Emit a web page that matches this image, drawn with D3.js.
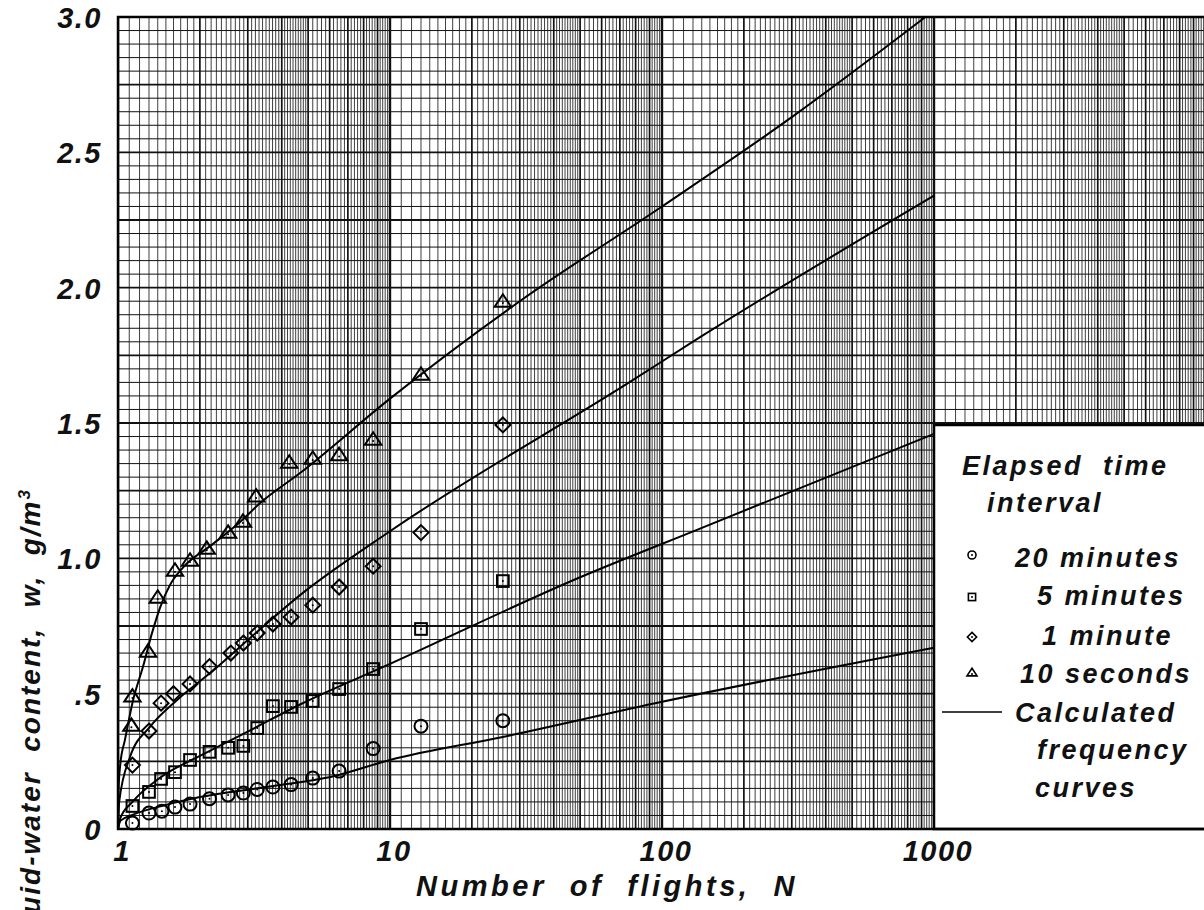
<!DOCTYPE html>
<html>
<head>
<meta charset="utf-8">
<script src="https://cdn.jsdelivr.net/npm/d3@7"></script>
<style>
  body { margin: 0; background: #fff; }
  svg text { font-family: "Liberation Sans", sans-serif; font-style: italic; font-weight: bold; fill: #111; }
</style>
</head>
<body>
<div id="chart"></div>
<script>
// observed points: number of flights N and liquid-water content w (g/m3)
const circleN = [1.13, 1.30, 1.45, 1.62, 1.84, 2.17, 2.54, 2.89, 3.25, 3.71, 4.33, 5.2, 6.5, 8.67, 13, 26];
const circleW = [0.022, 0.059, 0.066, 0.081, 0.092, 0.112, 0.126, 0.133, 0.146, 0.155, 0.164, 0.188, 0.214, 0.297, 0.38, 0.40];

const squareN = [1.13, 1.30, 1.44, 1.62, 1.84, 2.17, 2.54, 2.89, 3.25, 3.71, 4.33, 5.2, 6.5, 8.67, 13, 26];
const squareW = [0.085, 0.137, 0.185, 0.21, 0.255, 0.285, 0.30, 0.307, 0.373, 0.454, 0.451, 0.473, 0.517, 0.591, 0.739, 0.916];

const diamondN = [1.13, 1.30, 1.44, 1.60, 1.84, 2.17, 2.60, 2.89, 3.25, 3.71, 4.33, 5.2, 6.5, 8.67, 13, 26];
const diamondW = [0.236, 0.362, 0.465, 0.50, 0.536, 0.60, 0.65, 0.687, 0.724, 0.757, 0.783, 0.827, 0.894, 0.971, 1.095, 1.493];

const triangleN = [1.12, 1.13, 1.29, 1.40, 1.62, 1.84, 2.12, 2.54, 2.88, 3.22, 4.26, 5.2, 6.5, 8.67, 13, 26];
const triangleW = [0.38, 0.488, 0.654, 0.853, 0.953, 0.99, 1.034, 1.093, 1.134, 1.227, 1.352, 1.367, 1.38, 1.437, 1.677, 1.947];

// calculated frequency curves
const curve20mN = [1, 1.02, 1.13, 1.5, 2, 3.5, 6.2, 10, 26, 100, 1000];
const curve20mW = [0, 0.03, 0.052, 0.089, 0.118, 0.155, 0.195, 0.255, 0.34, 0.47, 0.67];

const curve5mN = [1, 1.02, 1.13, 1.43, 2, 3, 4.67, 10, 50, 138, 1000];
const curve5mW = [0, 0.04, 0.10, 0.19, 0.27, 0.36, 0.46, 0.61, 0.93, 1.11, 1.46];

const curve1mN = [1, 1.01, 1.107, 1.31, 1.65, 2.18, 3.24, 4.67, 10, 76, 138, 1000];
const curve1mW = [0, 0.10, 0.266, 0.377, 0.477, 0.576, 0.728, 0.864, 1.10, 1.651, 1.817, 2.34];

const curve10sN = [1, 1.004, 1.02, 1.061, 1.136, 1.236, 1.33, 1.43, 1.55, 1.73, 2.18, 2.81, 3.33, 4.67, 10, 30, 100, 300, 930];
const curve10sW = [0, 0.14, 0.24, 0.33, 0.476, 0.60, 0.72, 0.82, 0.90, 0.965, 1.045, 1.134, 1.204, 1.315, 1.59, 1.95, 2.30, 2.63, 3.0];

const yTickValues = [0, 0.5, 1.0, 1.5, 2.0, 2.5, 3.0];
const yTickLabels = ["0", ".5", "1.0", "1.5", "2.0", "2.5", "3.0"];
const xTickValues = [1, 10, 100, 1000];
const xTickLabels = ["1", "10", "100", "1000"];

const legendLabels = ["20 minutes", "5 minutes", "1 minute", "10 seconds"];

const width = 1204, height = 910;
const plotLeft = 118, plotRight = 1206, plotTop = 17, plotBottom = 829;

const svg = d3.select("#chart").append("svg")
  .attr("width", width)
  .attr("height", height);

const x = d3.scaleLog().domain([1, 10000]).range([plotLeft, plotRight]);
const y = d3.scaleLinear().domain([0, 3]).range([plotBottom, plotTop]);

svg.append("clipPath").attr("id", "plotClip")
  .append("rect")
  .attr("x", plotLeft).attr("y", plotTop)
  .attr("width", plotRight - plotLeft).attr("height", plotBottom - plotTop);

// graph paper grid: 0.1 steps up to 5, 0.2 steps from 5 to 10 in each cycle
const gGrid = svg.append("g").attr("clip-path", "url(#plotClip)");

let vLines = [];
for (let d = 1; d <= 1000; d *= 10) {
  for (let m = 1; m < 10 - 1e-9; ) {
    const isInt = Math.abs(m - Math.round(m)) < 1e-6;
    vLines.push({ v: m * d, kind: m === 1 ? "decade" : (isInt ? "int" : "minor") });
    m = Math.round((m + (m < 5 - 1e-9 ? 0.1 : 0.2)) * 10) / 10;
  }
}
vLines.push({ v: 10000, kind: "decade" });

gGrid.selectAll("line.v")
  .data(vLines)
  .join("line")
  .attr("x1", d => x(d.v)).attr("x2", d => x(d.v))
  .attr("y1", plotTop).attr("y2", plotBottom)
  .attr("stroke", d => d.kind === "minor" ? "#2a2a2a" : "#111")
  .attr("stroke-width", d => d.kind === "decade" ? 2.4 : d.kind === "int" ? 1.7 : 0.9);

const hLines = d3.range(0, 61).map(i => i * 0.05);
gGrid.selectAll("line.h")
  .data(hLines)
  .join("line")
  .attr("x1", plotLeft).attr("x2", plotRight)
  .attr("y1", d => y(d)).attr("y2", d => y(d))
  .attr("stroke", "#111")
  .attr("stroke-width", (d, i) => i % 5 === 0 ? 1.8 : 1);

// curves
const line = d3.line()
  .x(d => x(d[0]))
  .y(d => y(d[1]))
  .curve(d3.curveMonotoneX);

const curves = [
  d3.zip(curve20mN, curve20mW),
  d3.zip(curve5mN, curve5mW),
  d3.zip(curve1mN, curve1mW),
  d3.zip(curve10sN, curve10sW)
];

svg.append("g")
  .attr("clip-path", "url(#plotClip)")
  .selectAll("path")
  .data(curves)
  .join("path")
  .attr("d", line)
  .attr("fill", "none")
  .attr("stroke", "#000")
  .attr("stroke-width", 2);

// symbols
function drawSymbol(g, kind, cx, cy, s) {
  if (kind === "circle") {
    g.append("circle").attr("cx", cx).attr("cy", cy).attr("r", s);
  } else if (kind === "square") {
    g.append("rect").attr("x", cx - s * 0.9).attr("y", cy - s * 0.9)
      .attr("width", s * 1.8).attr("height", s * 1.8);
  } else if (kind === "diamond") {
    const r = s * 1.15;
    g.append("path").attr("d", `M${cx},${cy - r}L${cx + r},${cy}L${cx},${cy + r}L${cx - r},${cy}Z`);
  } else {
    const r = s * 1.2;
    g.append("path").attr("d", `M${cx},${cy - r}L${cx + r * 1.05},${cy + r * 0.6}L${cx - r * 1.05},${cy + r * 0.6}Z`);
  }
  g.append("circle").attr("cx", cx).attr("cy", kind === "triangle" ? cy + 1 : cy).attr("r", 1)
    .attr("fill", "#000").attr("stroke", "none");
}

const series = [
  { kind: "circle", n: circleN, w: circleW },
  { kind: "square", n: squareN, w: squareW },
  { kind: "diamond", n: diamondN, w: diamondW },
  { kind: "triangle", n: triangleN, w: triangleW }
];

const gPts = svg.append("g")
  .attr("fill", "none")
  .attr("stroke", "#000")
  .attr("stroke-width", 2);

series.forEach(s => {
  s.n.forEach((n, i) => drawSymbol(gPts, s.kind, x(n), y(s.w[i]), 6.5));
});

// legend box
const lx = x(1000), ly = 425;
svg.append("rect")
  .attr("x", lx).attr("y", ly)
  .attr("width", plotRight - lx).attr("height", plotBottom - ly)
  .attr("fill", "#fff")
  .attr("stroke", "#000")
  .attr("stroke-width", 2.5);

// frame
svg.append("rect")
  .attr("x", plotLeft).attr("y", plotTop)
  .attr("width", plotRight - plotLeft).attr("height", plotBottom - plotTop)
  .attr("fill", "none")
  .attr("stroke", "#000")
  .attr("stroke-width", 2.5);

const gLeg = svg.append("g").style("font-size", "27px").style("letter-spacing", "2.5px");
gLeg.append("text").attr("x", 962).attr("y", 475).attr("xml:space", "preserve").text("Elapsed  time");
gLeg.append("text").attr("x", 987).attr("y", 512).text("interval");

const legY = [555, 597, 637, 673];
const legTextX = [1015, 1037, 1042, 1020];
const legBase = [567, 605, 645, 683];
const gLegSym = svg.append("g").attr("fill", "none").attr("stroke", "#000").attr("stroke-width", 1.6);
series.forEach((s, i) => {
  drawSymbol(gLegSym, s.kind, 972, legY[i], 4);
  gLeg.append("text").attr("x", legTextX[i]).attr("y", legBase[i]).text(legendLabels[i]);
});
svg.append("line")
  .attr("x1", 942).attr("x2", 1002).attr("y1", 712).attr("y2", 712)
  .attr("stroke", "#000").attr("stroke-width", 1.6);
gLeg.append("text").attr("x", 1015).attr("y", 722).text("Calculated");
gLeg.append("text").attr("x", 1037).attr("y", 759).text("frequency");
gLeg.append("text").attr("x", 1035).attr("y", 797).text("curves");

// axis tick labels
const gAx = svg.append("g").style("font-size", "29px").style("letter-spacing", "1.5px");
gAx.selectAll("text.y")
  .data(yTickValues)
  .join("text")
  .attr("x", 102)
  .attr("y", d => y(d) + 11)
  .attr("text-anchor", "end")
  .text((d, i) => yTickLabels[i]);

gAx.selectAll("text.x")
  .data(xTickValues)
  .join("text")
  .attr("x", d => x(d) + 4)
  .attr("y", 861)
  .attr("text-anchor", "middle")
  .text((d, i) => xTickLabels[i]);

// axis titles
svg.append("text")
  .attr("x", 607).attr("y", 896)
  .attr("text-anchor", "middle")
  .style("font-size", "29px")
  .style("letter-spacing", "3.5px")
  .attr("xml:space", "preserve")
  .text("Number  of  flights,  N");

const yTitle = svg.append("text")
  .attr("transform", "translate(40,488) rotate(-90)")
  .attr("text-anchor", "end")
  .style("font-size", "28px")
  .style("letter-spacing", "2px")
  .attr("xml:space", "preserve");
yTitle.append("tspan").text("Liquid-water  content,  w,  g/m");
yTitle.append("tspan").attr("dy", -10).style("font-size", "17px").text("3");
</script>
</body>
</html>
